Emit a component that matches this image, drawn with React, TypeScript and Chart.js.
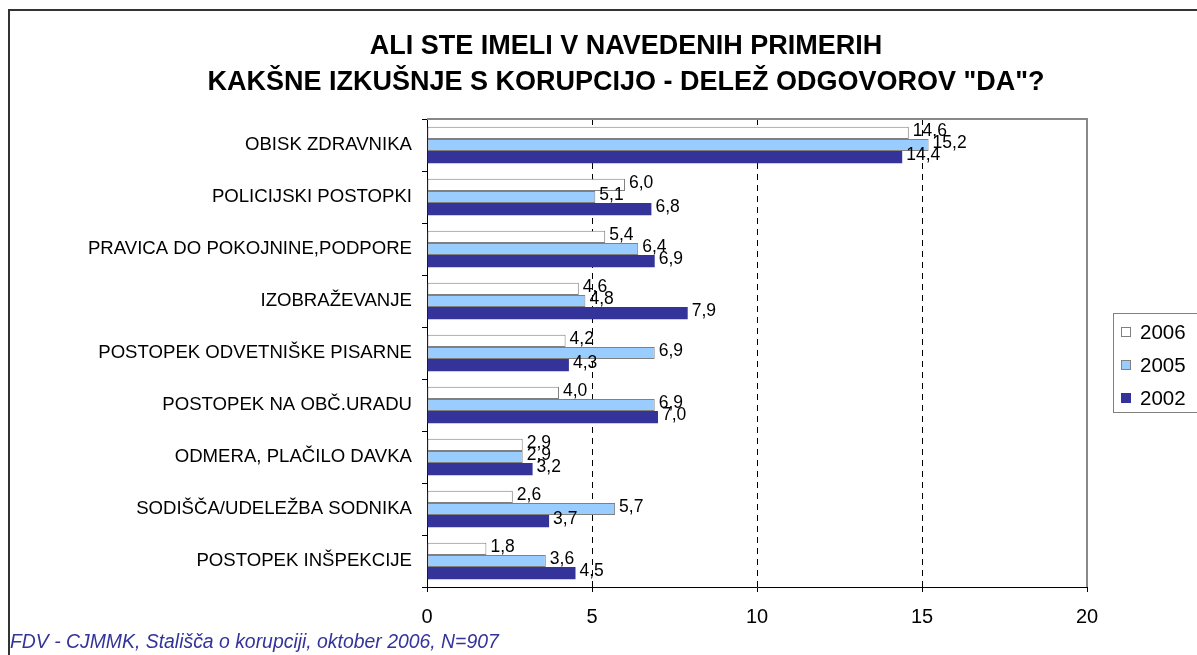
import React, { useEffect, useRef } from "react";
import { Chart, registerables } from "chart.js";

Chart.register(...registerables);

const categories = [
  "OBISK ZDRAVNIKA",
  "POLICIJSKI POSTOPKI",
  "PRAVICA DO POKOJNINE,PODPORE",
  "IZOBRAŽEVANJE",
  "POSTOPEK ODVETNIŠKE PISARNE",
  "POSTOPEK NA OBČ.URADU",
  "ODMERA, PLAČILO DAVKA",
  "SODIŠČA/UDELEŽBA SODNIKA",
  "POSTOPEK INŠPEKCIJE",
];

const seriesNames = ["2006", "2005", "2002"];
const values2006 = [14.6, 6.0, 5.4, 4.6, 4.2, 4.0, 2.9, 2.6, 1.8];
const values2005 = [15.2, 5.1, 6.4, 4.8, 6.9, 6.9, 2.9, 5.7, 3.6];
const values2002 = [14.4, 6.8, 6.9, 7.9, 4.3, 7.0, 3.2, 3.7, 4.5];

const xMin = 0;
const xMax = 20;
const xStep = 5;

const titleLines = [
  "ALI STE IMELI V NAVEDENIH PRIMERIH",
  'KAKŠNE IZKUŠNJE S KORUPCIJO - DELEŽ ODGOVOROV "DA"?',
];
const footnote = "FDV - CJMMK, Stališča o korupciji, oktober 2006, N=907";

const FAM = "'Liberation Sans', Arial, Helvetica, sans-serif";

const fills = ["#FFFFFF", "#99CCFF", "#333399"];
const borders = ["#808080", "#808080", "#333399"];
const borderWidths = [1, 1, 0];

export default function App() {
  const ref = useRef<HTMLCanvasElement>(null);

  useEffect(() => {
    document.body.style.margin = "0";
    const canvas = ref.current;
    if (!canvas) return;

    const decor = {
      id: "decor",
      beforeDatasetsDraw(chart: any) {
        const { ctx, chartArea, scales } = chart;
        const { left, right, top, bottom } = chartArea;
        const x = scales.x;
        ctx.save();
        ctx.strokeStyle = "#000000";
        ctx.lineWidth = 1;
        ctx.setLineDash([6, 5]);
        x.ticks.forEach((t: any) => {
          if (t.value > x.min && t.value < x.max) {
            const px = Math.round(x.getPixelForValue(t.value)) + 0.5;
            ctx.beginPath();
            ctx.moveTo(px, top);
            ctx.lineTo(px, bottom);
            ctx.stroke();
          }
        });
        ctx.setLineDash([]);
        ctx.strokeStyle = "#888888";
        ctx.lineWidth = 2;
        ctx.beginPath();
        ctx.moveTo(left, top);
        ctx.lineTo(right, top);
        ctx.lineTo(right, bottom);
        ctx.stroke();
        ctx.restore();
      },
      afterDraw(chart: any) {
        const { ctx } = chart;
        ctx.save();
        // data labels
        ctx.fillStyle = "#000000";
        ctx.font = `17.5px ${FAM}`;
        ctx.textAlign = "left";
        ctx.textBaseline = "middle";
        chart.data.datasets.forEach((ds: any, i: number) => {
          const meta = chart.getDatasetMeta(i);
          meta.data.forEach((bar: any, j: number) => {
            const v = ds.data[j] as number;
            const txt = v.toFixed(1).replace(".", ",");
            ctx.fillText(txt, bar.x + 4, bar.y - 2);
          });
        });

        // title
        ctx.font = `bold 27px ${FAM}`;
        ctx.textAlign = "center";
        ctx.fillText(titleLines[0], 626, 47);
        ctx.fillText(titleLines[1], 626, 83);

        // footnote
        ctx.font = `italic 19.4px ${FAM}`;
        ctx.fillStyle = "#333399";
        ctx.textAlign = "left";
        ctx.fillText(footnote, 10, 643);

        // legend
        ctx.strokeStyle = "#808080";
        ctx.lineWidth = 1;
        ctx.strokeRect(1113.5, 313.5, 84, 99);
        ctx.font = `20.5px ${FAM}`;
        seriesNames.forEach((name, i) => {
          const cy = 332 + i * 33;
          ctx.fillStyle = fills[i];
          ctx.fillRect(1121, cy - 5, 10, 10);
          if (borderWidths[i] > 0) {
            ctx.strokeStyle = borders[i];
            ctx.strokeRect(1121.5, cy - 4.5, 9, 9);
          }
          ctx.fillStyle = "#000000";
          ctx.fillText(name, 1140, cy + 1);
        });

        // outer frame
        ctx.strokeStyle = "#333333";
        ctx.lineWidth = 2;
        ctx.beginPath();
        ctx.moveTo(9, 655);
        ctx.lineTo(9, 10);
        ctx.lineTo(1197, 10);
        ctx.stroke();
        ctx.restore();
      },
    };

    const seriesValues = [values2006, values2005, values2002];

    const chart = new Chart(canvas, {
      type: "bar",
      data: {
        labels: categories,
        datasets: seriesNames.map((name, i) => ({
          label: name,
          data: seriesValues[i],
          backgroundColor: fills[i],
          borderColor: borders[i],
          borderWidth: borderWidths[i],
          borderSkipped: false,
          categoryPercentage: 0.7,
          barPercentage: 1.0,
        })),
      },
      options: {
        indexAxis: "y",
        responsive: false,
        animation: false,
        events: [],
        layout: { padding: { top: 119, right: 110, bottom: 18, left: 0 } },
        plugins: {
          legend: { display: false },
          title: { display: false },
          tooltip: { enabled: false },
        },
        scales: {
          x: {
            type: "linear",
            min: xMin,
            max: xMax,
            ticks: {
              stepSize: xStep,
              color: "#000000",
              font: { family: FAM, size: 20 },
              padding: 13,
            },
            grid: {
              drawOnChartArea: false,
              drawTicks: true,
              tickLength: 5,
              color: "#000000",
            },
            border: { display: true, color: "#000000", width: 1 },
            afterFit: (s: any) => {
              s.height = 50;
            },
          },
          y: {
            type: "category",
            ticks: {
              color: "#000000",
              font: { family: FAM, size: 18.6 },
              padding: 10,
            },
            grid: {
              drawOnChartArea: false,
              drawTicks: true,
              tickLength: 5,
              color: "#000000",
              offset: true,
            },
            border: { display: true, color: "#000000", width: 1 },
            afterFit: (s: any) => {
              s.width = 427;
            },
          },
        },
      },
      plugins: [decor],
    });

    return () => chart.destroy();
  }, []);

  return (
    <div style={{ width: 1197, height: 655 }}>
      <canvas ref={ref} width={1197} height={655} style={{ display: "block" }} />
    </div>
  );
}
